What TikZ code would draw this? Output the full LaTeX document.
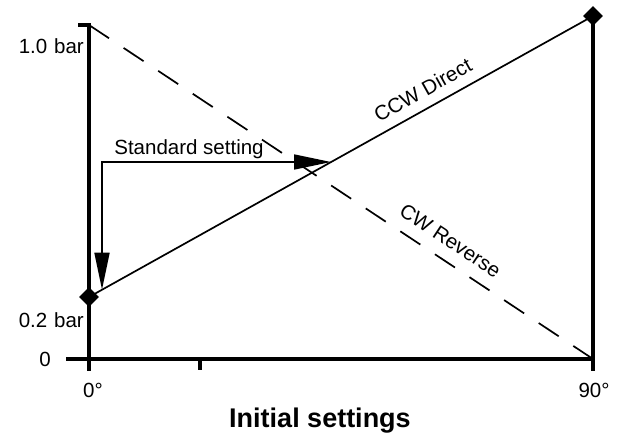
\documentclass[tikz,border=0pt]{standalone}
\usepackage{fontspec}
\setmainfont{Liberation Sans}
\usetikzlibrary{shapes.geometric}
\usetikzlibrary{arrows.meta}
\tikzset{
	axis_line/.style = {
		line width=3.4pt,
		line cap=butt
	},
	value_line/.style = {
		line width=1.7pt
	},
	value_dash/.style = {
		value_line,
		dash pattern=on 24pt off 17.5pt
	},
	end_mark/.style = {
		diamond,
		fill=black,
		inner sep=0pt,
		minimum size=20pt
	},
	label_txt/.style = {
		inner sep=0pt,
		font=\fontsize{20.5}{24}\selectfont
	},
	title_txt/.style = {
		inner sep=0pt,
		font=\fontsize{27}{30}\selectfont\bfseries
	},
	set_arrow/.style = {
		value_line,
		{Triangle[length=37pt,width=15pt]}-{Triangle[length=37pt,width=15pt]}
	}
}

\begin{document}
\begin{tikzpicture}[x=1pt,y=-1pt]
\useasboundingbox (0,0) rectangle (622,436);
% axes
\coordinate (top_tick) at (78,25);
\coordinate (top) at (89,25);
\coordinate (left_end) at (66,359);
\coordinate (right_base) at (593,359);
\coordinate (zero_tick) at (89,371);
\coordinate (right_tick) at (593,371);
\coordinate (mid_base) at (200,359);
\coordinate (mid_tick) at (200,370);
\coordinate (low_pt) at (89,297);
\coordinate (high_pt) at (593,16);
\draw [axis_line] (top_tick) -- (top) -- (zero_tick);
\draw [axis_line] (left_end) -- (right_base);
\draw [axis_line] (high_pt) -- (right_tick);
\draw [axis_line] (mid_base) -- (mid_tick);
% characteristics
\draw [value_line] (low_pt) -- (high_pt)
	node [label_txt, pos=0.68, sloped, above=10pt] (ccw) {CCW Direct};
\draw [value_dash] (top) -- (right_base)
	node [label_txt, pos=0.695, sloped, above=12pt] (cw) {CW Reverse};
\node [end_mark] (d_low) at (low_pt) {};
\node [end_mark] (d_high) at (high_pt) {};
% standard setting
\coordinate (std_down) at (102,289.7);
\coordinate (std_right) at (331,162);
\draw [set_arrow] (std_down) |- (std_right);
\node [label_txt, anchor=base] (std) at (189,154) {Standard setting};
% labels
\node [label_txt, anchor=base east] (bar_hi) at (84,54) {1.0\,\,bar};
\node [label_txt, anchor=base east] (bar_lo) at (84,327) {0.2\,\,bar};
\node [label_txt, anchor=base east] (zero) at (51,366) {0};
\node [label_txt, anchor=base] (deg0) at (93,397) {0°};
\node [label_txt, anchor=base] (deg90) at (594,397) {90°};
\node [title_txt, anchor=base] (title) at (320,427) {Initial settings};
\end{tikzpicture}
\end{document}
